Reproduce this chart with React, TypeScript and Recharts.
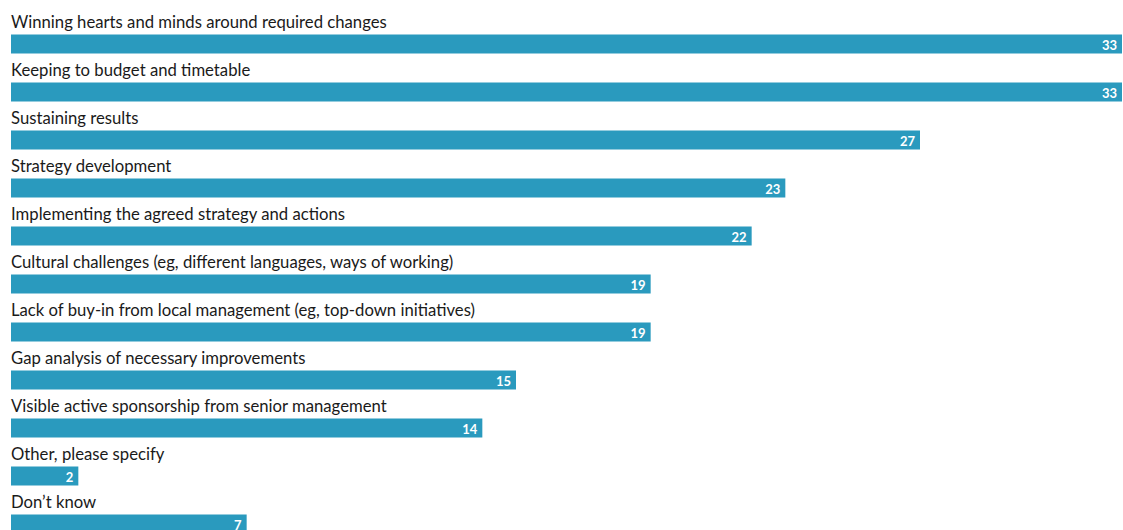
import React from 'react';
import { BarChart, Bar, XAxis, YAxis, LabelList } from 'recharts';

const categories = [
  'Winning hearts and minds around required changes',
  'Keeping to budget and timetable',
  'Sustaining results',
  'Strategy development',
  'Implementing the agreed strategy and actions',
  'Cultural challenges (eg, different languages, ways of working)',
  'Lack of buy-in from local management (eg, top-down initiatives)',
  'Gap analysis of necessary improvements',
  'Visible active sponsorship from senior management',
  'Other, please specify',
  'Don\u2019t know',
];
const values = [33, 33, 27, 23, 22, 19, 19, 15, 14, 2, 7];

const data = categories.map((name, i) => ({ name, value: values[i] }));

const BAR_COLOR = '#2a9abe';
const FONT = 'Lato, sans-serif';

// category name above the bar, value inside its right end
const RowLabel = (props: any) => {
  const { x, y, width, index } = props;
  return (
    <g>
      <text x={x} y={y - 7} fill="#1a1a1a" fontSize={16.7} fontFamily={FONT}>
        {categories[index]}
      </text>
      <text
        x={x + width - 5}
        y={y + 15}
        textAnchor="end"
        fill="#fff"
        fontSize={13}
        fontWeight="bold"
        fontFamily={FONT}
      >
        {values[index]}
      </text>
    </g>
  );
};

export default function App() {
  return (
    <div style={{ position: 'absolute', left: 0, top: 0, width: 1123, height: 530, overflow: 'hidden', background: '#fff' }}>
      <BarChart
        width={1123}
        height={560}
        data={data}
        layout="vertical"
        margin={{ top: 19.5, right: 1, bottom: 12.5, left: 11 }}
      >
        <XAxis type="number" domain={[0, 33]} hide />
        <YAxis type="category" dataKey="name" hide width={0} />
        <Bar dataKey="value" fill={BAR_COLOR} barSize={19} isAnimationActive={false}>
          <LabelList dataKey="value" content={<RowLabel />} />
        </Bar>
      </BarChart>
    </div>
  );
}
